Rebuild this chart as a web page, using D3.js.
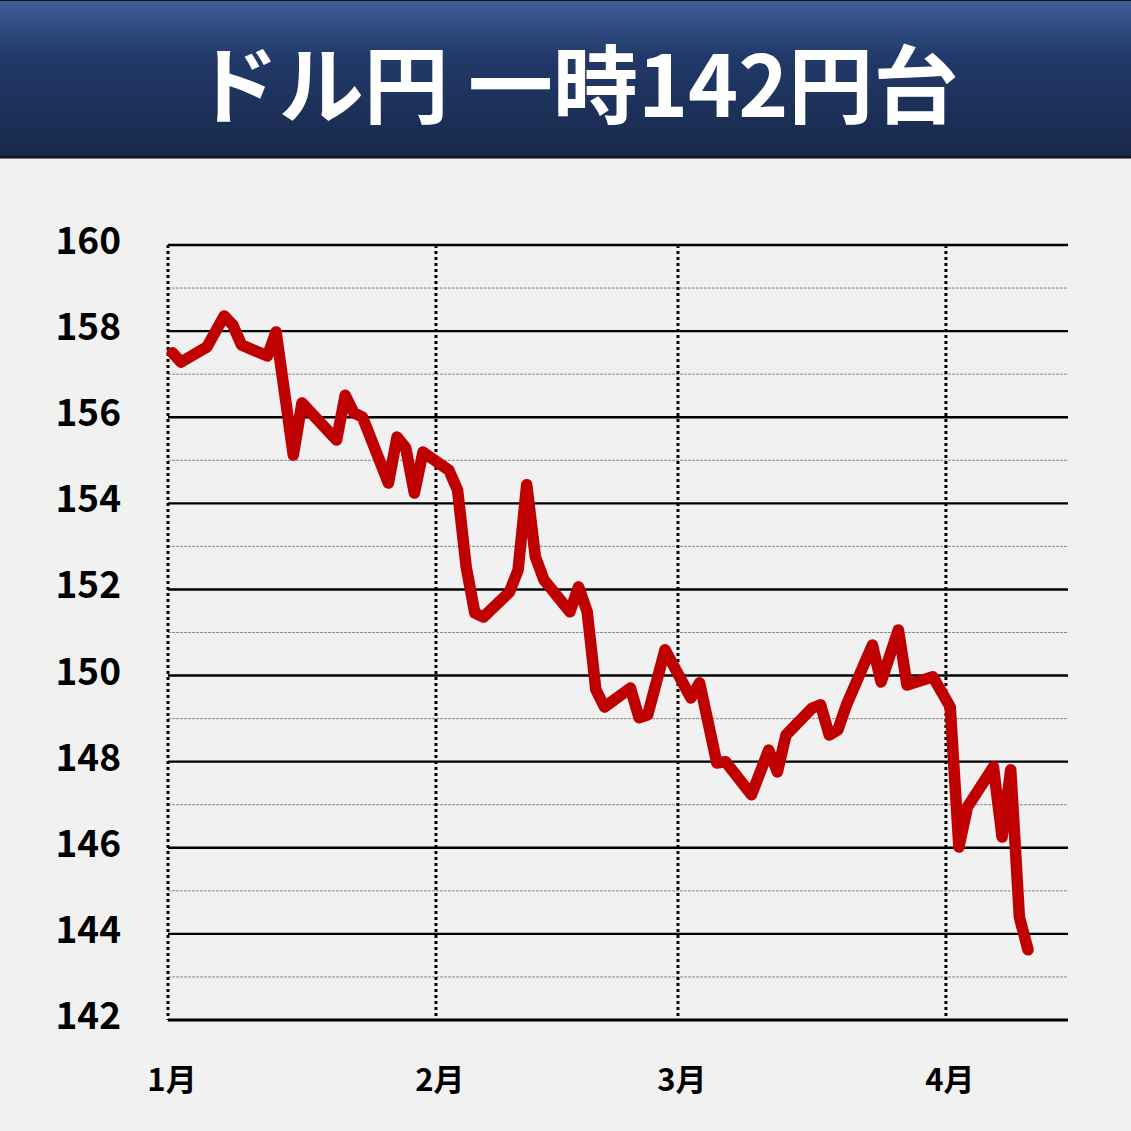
<!DOCTYPE html>
<html>
<head>
<meta charset="utf-8">
<script src="https://cdn.jsdelivr.net/npm/d3@7/dist/d3.min.js"></script>
<style>
  html, body { margin: 0; padding: 0; background: #f1f1f1; }
  svg { display: block; }
</style>
</head>
<body>
<script>
// ---- data ----
const titleText = "ドル円 一時142円台";
const dates = [
  "2025-01-02","2025-01-03","2025-01-06","2025-01-08","2025-01-09","2025-01-10",
  "2025-01-13","2025-01-14","2025-01-16","2025-01-17","2025-01-21","2025-01-22",
  "2025-01-23","2025-01-24","2025-01-27","2025-01-28","2025-01-29","2025-01-30",
  "2025-01-31","2025-02-03","2025-02-04","2025-02-05","2025-02-06","2025-02-07",
  "2025-02-10","2025-02-11","2025-02-12","2025-02-13","2025-02-14","2025-02-17",
  "2025-02-18","2025-02-19","2025-02-20","2025-02-21","2025-02-24","2025-02-25",
  "2025-02-26","2025-02-28","2025-03-03","2025-03-04","2025-03-06","2025-03-07",
  "2025-03-10","2025-03-12","2025-03-13","2025-03-14","2025-03-17","2025-03-18",
  "2025-03-19","2025-03-20","2025-03-21","2025-03-24","2025-03-25","2025-03-27",
  "2025-03-28","2025-03-31","2025-04-02","2025-04-03","2025-04-04","2025-04-07",
  "2025-04-08","2025-04-09","2025-04-10","2025-04-11"
];
const rates = [
  157.50,157.28,157.63,158.35,158.14,157.68,
  157.42,157.98,155.12,156.33,155.47,156.51,
  156.10,156.00,154.47,155.54,155.29,154.24,
  155.19,154.77,154.31,152.52,151.45,151.36,
  151.94,152.45,154.43,152.76,152.22,151.48,
  152.06,151.48,149.67,149.27,149.71,149.02,
  149.09,150.60,149.48,149.83,147.97,148.00,
  147.23,148.27,147.76,148.62,149.24,149.32,
  148.62,148.74,149.32,150.71,149.85,151.06,
  149.78,149.97,149.27,146.02,146.95,147.88,
  146.25,147.81,144.39,143.63
];
const yTicks = [142,144,146,148,150,152,154,156,158,160];
const yMinorTicks = [143,145,147,149,151,153,155,157,159];
const monthStarts = ["2025-01-01","2025-02-01","2025-03-01","2025-04-01"];
const monthLabels = ["1月","2月","3月","4月"];

// ---- setup ----
const W = 1131, H = 1131;
const parse = d3.timeParse("%Y-%m-%d");
const data = dates.map((d, i) => ({ date: parse(d), value: rates[i] }));
const font = "'Noto Sans CJK JP', 'Noto Sans', sans-serif";

const svg = d3.select("body").append("svg").attr("width", W).attr("height", H);

svg.append("rect").attr("width", W).attr("height", H).attr("fill", "#f1f1f1");

// header
const defs = svg.append("defs");
const grad = defs.append("linearGradient").attr("id", "hdr").attr("x1", 0).attr("y1", 0).attr("x2", 0).attr("y2", 1);
grad.append("stop").attr("offset", "0%").attr("stop-color", "#3f5f99");
grad.append("stop").attr("offset", "35%").attr("stop-color", "#223a6a");
grad.append("stop").attr("offset", "100%").attr("stop-color", "#18284a");
svg.append("rect").attr("x", 0).attr("y", 0).attr("width", W).attr("height", 158)
  .attr("fill", "url(#hdr)");
svg.append("line").attr("x1", 0).attr("x2", W).attr("y1", 157.5).attr("y2", 157.5)
  .attr("stroke", "#111").attr("stroke-width", 2);
svg.append("line").attr("x1", 0).attr("x2", W).attr("y1", 0.5).attr("y2", 0.5)
  .attr("stroke", "#111").attr("stroke-width", 1);
svg.append("text").attr("x", 576).attr("y", 117).attr("text-anchor", "middle")
  .attr("fill", "#fff").attr("font-family", font).attr("font-weight", 700)
  .attr("font-size", 85).text(titleText);

// scales
const pLeft = 168, pRight = 1068, pTop = 245, pBottom = 1020;
// each day's point sits at its date; month dividers at the middle of the 1st day
const x = d3.scaleTime()
  .domain([new Date(2025, 0, 1, 12), new Date(2025, 3, 15, 15)])
  .range([pLeft, pRight]);
const y = d3.scaleLinear().domain([142, 160]).range([pBottom, pTop]);

// minor gridlines (odd values)
svg.append("g").selectAll("line").data(yMinorTicks).join("line")
  .attr("x1", pLeft).attr("x2", pRight)
  .attr("y1", d => y(d)).attr("y2", d => y(d))
  .attr("stroke", "#8a8a8a").attr("stroke-width", 1).attr("stroke-dasharray", "3,1");

// month dividers
const monthPos = monthStarts.map(m => x(d3.timeHour.offset(parse(m), 12)));
svg.append("g").selectAll("line").data(monthPos).join("line")
  .attr("x1", d => d).attr("x2", d => d)
  .attr("y1", pTop).attr("y2", pBottom)
  .attr("stroke", "#000").attr("stroke-width", 3).attr("stroke-dasharray", "3,3");

// major gridlines
svg.append("g").selectAll("line").data(yTicks).join("line")
  .attr("x1", pLeft).attr("x2", pRight)
  .attr("y1", d => y(d)).attr("y2", d => y(d))
  .attr("stroke", "#000").attr("stroke-width", d => d === 142 ? 3 : 2.4);

// y labels
svg.append("g").selectAll("text").data(yTicks).join("text")
  .attr("x", 121).attr("y", d => y(d) + 9)
  .attr("text-anchor", "end").attr("font-family", font).attr("font-weight", 700)
  .attr("font-size", 37).attr("fill", "#000").text(d => d);

// x labels
svg.append("g").selectAll("text").data(monthLabels).join("text")
  .attr("x", (d, i) => monthPos[i] + 4).attr("y", 1091)
  .attr("text-anchor", "middle").attr("font-family", font).attr("font-weight", 700)
  .attr("font-size", 31).attr("fill", "#000").text(d => d);

// line
const line = d3.line().x(d => x(d.date)).y(d => y(d.value));
svg.append("path").datum(data).attr("d", line)
  .attr("fill", "none").attr("stroke", "#c00000").attr("stroke-width", 11.5)
  .attr("stroke-linejoin", "round").attr("stroke-linecap", "round");
</script>
</body>
</html>
